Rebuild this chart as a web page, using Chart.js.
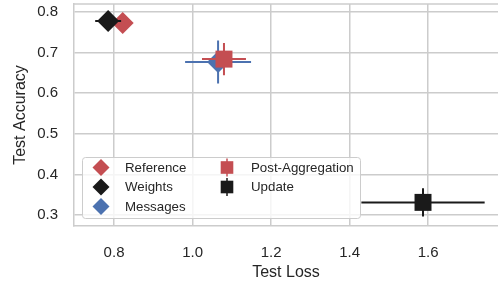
<!DOCTYPE html>
<html>
<head>
<meta charset="utf-8">
<script src="https://cdn.jsdelivr.net/npm/chart.js@4"></script>
<style>
  html, body { margin: 0; padding: 0; background: #fff; }
  #wrap { width: 498px; height: 284px; }
</style>
</head>
<body>
<div id="wrap"><canvas id="myChart" width="498" height="284"></canvas></div>
<script>
// data
const methods = ['Reference', 'Weights', 'Messages', 'Post-Aggregation', 'Update'];
const testLoss = [0.822, 0.785, 1.065, 1.080, 1.587];
const testAcc = [0.773, 0.778, 0.677, 0.684, 0.331];
const lossErr = [0.015, 0.033, 0.084, 0.056, 0.157];
const accErr = [0.015, 0.02, 0.053, 0.04, 0.035];
const xTicks = [0.8, 1.0, 1.2, 1.4, 1.6];
const yTicks = [0.3, 0.4, 0.5, 0.6, 0.7, 0.8];

const colors = ['#c44e52', '#1a1a1a', '#4c72b0', '#c44e52', '#1a1a1a'];
const shapes = ['rectRot', 'rectRot', 'rectRot', 'rect', 'rect'];
const FONT = "'Liberation Sans', Arial, sans-serif";
const TEXT = '#262626';
const GRID = '#cccccc';

// error bars, drawn just under each dataset's own marker
const errorBars = {
  id: 'errorBars',
  beforeDatasetDraw(chart, args) {
    const i = args.index;
    const { ctx, scales: { x, y } } = chart;
    const px = x.getPixelForValue(testLoss[i]);
    const py = y.getPixelForValue(testAcc[i]);
    ctx.save();
    ctx.strokeStyle = colors[i];
    ctx.lineWidth = 2;
    ctx.beginPath();
    ctx.moveTo(x.getPixelForValue(testLoss[i] - lossErr[i]), py);
    ctx.lineTo(x.getPixelForValue(testLoss[i] + lossErr[i]), py);
    ctx.moveTo(px, y.getPixelForValue(testAcc[i] - accErr[i]));
    ctx.lineTo(px, y.getPixelForValue(testAcc[i] + accErr[i]));
    ctx.stroke();
    ctx.restore();
  }
};

// top spine
const frame = {
  id: 'frame',
  beforeDatasetsDraw(chart) {
    const { ctx, chartArea } = chart;
    ctx.save();
    ctx.strokeStyle = GRID;
    ctx.lineWidth = 1.5;
    ctx.beginPath();
    ctx.moveTo(chartArea.left, chartArea.top);
    ctx.lineTo(chartArea.right, chartArea.top);
    ctx.stroke();
    ctx.restore();
  }
};

// two-column legend in the lower left of the plot
const boxLegend = {
  id: 'boxLegend',
  afterDatasetsDraw(chart) {
    const { ctx, chartArea } = chart;
    const left = chartArea.left + 8;
    const bottom = chartArea.bottom - 8;
    const w = 278, h = 61;
    const top = bottom - h;
    ctx.save();
    ctx.fillStyle = 'rgba(255,255,255,0.8)';
    ctx.strokeStyle = GRID;
    ctx.lineWidth = 1;
    ctx.beginPath();
    ctx.roundRect(left + 0.5, top + 0.5, w, h, 3);
    ctx.fill();
    ctx.stroke();

    ctx.font = '13.3px ' + FONT;
    ctx.textBaseline = 'middle';
    ctx.fillStyle = TEXT;
    const colX = [left + 19, left + 145];
    const rowY = [top + 10.5, top + 30, top + 49.5];
    methods.forEach((name, i) => {
      const col = i < 3 ? 0 : 1;
      const row = i < 3 ? i : i - 3;
      const cx = colX[col], cy = rowY[row];
      ctx.fillStyle = colors[i];
      ctx.strokeStyle = colors[i];
      ctx.beginPath();
      if (shapes[i] === 'rectRot') {
        ctx.moveTo(cx, cy - 8.5);
        ctx.lineTo(cx + 8.5, cy);
        ctx.lineTo(cx, cy + 8.5);
        ctx.lineTo(cx - 8.5, cy);
        ctx.closePath();
        ctx.fill();
      } else {
        ctx.lineWidth = 1.5;
        ctx.moveTo(cx, cy - 9);
        ctx.lineTo(cx, cy + 9);
        ctx.stroke();
        ctx.fillRect(cx - 6.3, cy - 6.3, 12.6, 12.6);
      }
      ctx.fillStyle = TEXT;
      ctx.fillText(name, cx + 24, cy + 0.5);
    });
    ctx.restore();
  }
};

const datasets = methods.map((name, i) => ({
  label: name,
  data: [{ x: testLoss[i], y: testAcc[i] }],
  backgroundColor: colors[i],
  borderColor: colors[i],
  borderWidth: 0,
  pointStyle: shapes[i],
  pointRadius: shapes[i] === 'rect' ? 12 : 11,
  pointHoverRadius: shapes[i] === 'rect' ? 12 : 11,
  order: methods.length - i
}));

const onlyTicks = (list) => (scale) => {
  scale.ticks = list.map((v) => ({ value: v }));
};

let ctx = document.getElementById('myChart').getContext('2d');

const chart = new Chart(ctx, {
  type: 'scatter',
  data: { datasets },
  options: {
    responsive: false,
    animation: false,
    layout: { autoPadding: false, padding: { top: 4, right: 0, bottom: 0, left: 0 } },
    plugins: {
      legend: { display: false },
      tooltip: { enabled: false }
    },
    scales: {
      x: {
        min: 0.698,
        max: 1.778,
        afterBuildTicks: onlyTicks(xTicks),
        afterFit: (scale) => {
          scale.height = 58;
          scale.paddingLeft = 0;
          scale.paddingRight = 0;
        },
        border: { color: GRID, width: 1.5 },
        grid: { color: GRID, lineWidth: 1.5, drawTicks: false },
        ticks: {
          padding: 18,
          color: TEXT,
          font: { family: FONT, size: 15 },
          callback: (v) => v.toFixed(1)
        },
        title: {
          display: true,
          text: 'Test Loss',
          color: TEXT,
          font: { family: FONT, size: 16 },
          padding: { top: 0, bottom: 2 }
        }
      },
      y: {
        min: 0.2728,
        max: 0.8198,
        afterBuildTicks: onlyTicks(yTicks),
        afterFit: (scale) => {
          scale.width = 74;
          scale.paddingTop = 0;
          scale.paddingBottom = 0;
        },
        border: { color: GRID, width: 1.5 },
        grid: { color: GRID, lineWidth: 1.5, drawTicks: false },
        ticks: {
          padding: 16,
          color: TEXT,
          font: { family: FONT, size: 15 },
          callback: (v) => v.toFixed(1)
        },
        title: {
          display: true,
          text: 'Test Accuracy',
          color: TEXT,
          font: { family: FONT, size: 16 },
          padding: { top: 10.5, bottom: 0 }
        }
      }
    }
  },
  plugins: [errorBars, frame, boxLegend]
});
</script>
</body>
</html>
